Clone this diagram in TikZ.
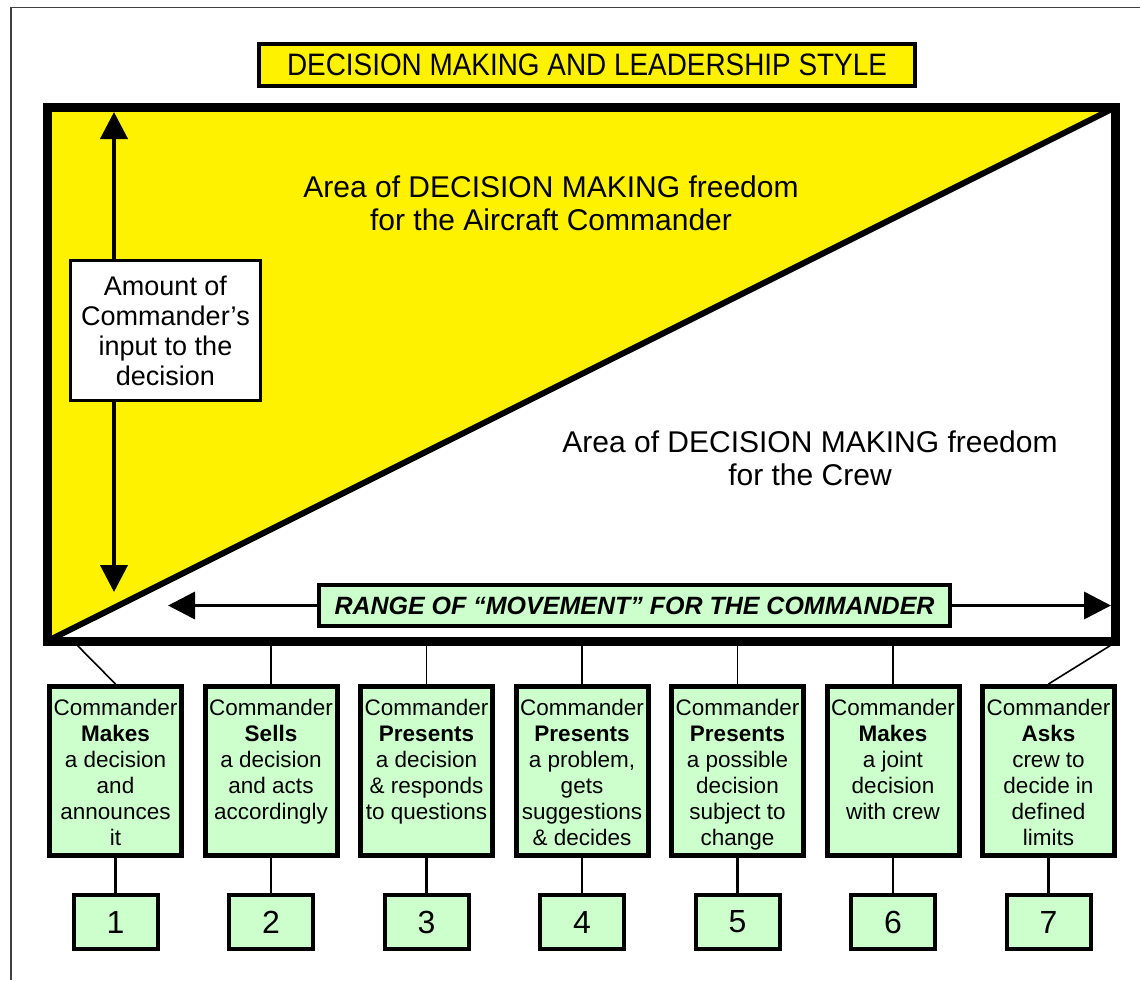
\documentclass[tikz,border=0pt]{standalone}
\usepackage{fontspec}
\setmainfont{Liberation Sans}
\usepackage{xcolor}
\usetikzlibrary{arrows.meta, positioning}
\definecolor{paleGreen}{RGB}{204,255,204}
\newcommand{\choicetext}[1]{\parbox[t][144pt][t]{132pt}{\centering\fontsize{22.5}{26}\selectfont #1}}

\begin{document}
\begin{tikzpicture}[x=1pt, y=-1pt, >={Triangle[length=27pt, width=27pt]},
    choice/.style={draw, line width=5pt, fill=paleGreen, minimum width=132pt, minimum height=169pt, inner sep=0pt},
    number/.style={draw, line width=4pt, fill=paleGreen, minimum width=84pt, minimum height=54pt, inner sep=0pt, font=\fontsize{32}{36}\selectfont},
    link/.style={line width=1.6pt},
    stem/.style={line width=2.5pt}]
    \useasboundingbox (0,0) rectangle (1140,980);
    \draw[line width=1.5pt, black!75] (11,980) -- (11,7.5) -- (1140,7.5);

    \node[draw, line width=4pt, fill=yellow, minimum width=656pt, minimum height=42pt, inner sep=0pt, font=\fontsize{31}{34}\selectfont] (title) at (587,65) {\scalebox{0.9}[1]{DECISION MAKING AND LEADERSHIP STYLE}};

    % the big frame, split along its diagonal
    \coordinate (tl) at (47.5,107.5);
    \coordinate (br) at (1115,641);
    \fill[yellow] (tl) -- (tl -| br) -- (tl |- br) -- cycle;
    \draw[line width=6pt] (tl |- br) -- (tl -| br);
    \draw[line width=9pt] (tl) rectangle (br);

    \node[font=\fontsize{30}{33}\selectfont, align=center] (boss) at (551,203) {Area of DECISION MAKING freedom\\for the Aircraft Commander};
    \node[font=\fontsize{30}{33}\selectfont, align=center] (crew) at (810,458) {Area of DECISION MAKING freedom\\for the Crew};

    \node[draw, line width=3pt, fill=white, minimum width=190pt, minimum height=140pt, align=center, font=\fontsize{27}{30}\selectfont] (input) at (165.5,330.5) {Amount of\\Commander’s\\input to the\\decision};
    \coordinate (inputtop) at (114,112);
    \coordinate (inputbottom) at (114,592);
    \draw[->, line width=4pt] (input.north -| inputtop) -- (inputtop);
    \draw[->, line width=4pt] (input.south -| inputbottom) -- (inputbottom);

    \node[draw, line width=4pt, fill=paleGreen, minimum width=631pt, minimum height=41pt, inner sep=0pt, font=\fontsize{25}{28}\selectfont\bfseries\itshape] (range) at (634.5,605.5) {RANGE OF “MOVEMENT” FOR THE COMMANDER};
    \coordinate (rangeleft) at (168,605.5);
    \coordinate (rangeright) at (1111,605.5);
    \draw[->, line width=3.5pt] (range.west) -- (rangeleft);
    \draw[->, line width=3.5pt] (range.east) -- (rangeright);

    % the seven styles
    \node[choice] (b1) at (115.5,771) {\choicetext{Commander\\\textbf{Makes}\\a decision\\and\\announces\\it}};
    \node[choice] (b2) at (271,771) {\choicetext{Commander\\\textbf{Sells}\\a decision\\and acts\\accordingly}};
    \node[choice] (b3) at (426.5,771) {\choicetext{Commander\\\textbf{Presents}\\a decision\\\& responds\\to questions}};
    \node[choice] (b4) at (582,771) {\choicetext{Commander\\\textbf{Presents}\\a problem,\\gets\\suggestions\\\& decides}};
    \node[choice] (b5) at (737.5,771) {\choicetext{Commander\\\textbf{Presents}\\a possible\\decision\\subject to\\change}};
    \node[choice] (b6) at (893,771) {\choicetext{Commander\\\textbf{Makes}\\a joint\\decision\\with crew}};
    \node[choice] (b7) at (1048.5,771) {\choicetext{Commander\\\textbf{Asks}\\crew to\\decide in\\defined\\limits}};

    \node[number] (n1) at (115.5,922) {1};
    \node[number] (n2) at (271,922) {2};
    \node[number] (n3) at (426.5,922) {3};
    \node[number] (n4) at (582,922) {4};
    \node[number] (n5) at (737.5,922) {5};
    \node[number] (n6) at (893,922) {6};
    \node[number] (n7) at (1048.5,922) {7};

    \coordinate (leftfoot) at (73,641);
    \coordinate (rightfoot) at (1116,642);
    \draw[link] (leftfoot) -- (b1.north);
    \draw[link] (b2.north |- br) -- (b2.north);
    \draw[link] (b3.north |- br) -- (b3.north);
    \draw[link] (b4.north |- br) -- (b4.north);
    \draw[link] (b5.north |- br) -- (b5.north);
    \draw[link] (b6.north |- br) -- (b6.north);
    \draw[link] (rightfoot) -- (b7.north);

    \draw[stem] (b1) -- (n1);
    \draw[stem] (b2) -- (n2);
    \draw[stem] (b3) -- (n3);
    \draw[stem] (b4) -- (n4);
    \draw[stem] (b5) -- (n5);
    \draw[stem] (b6) -- (n6);
    \draw[stem] (b7) -- (n7);
\end{tikzpicture}
\end{document}
